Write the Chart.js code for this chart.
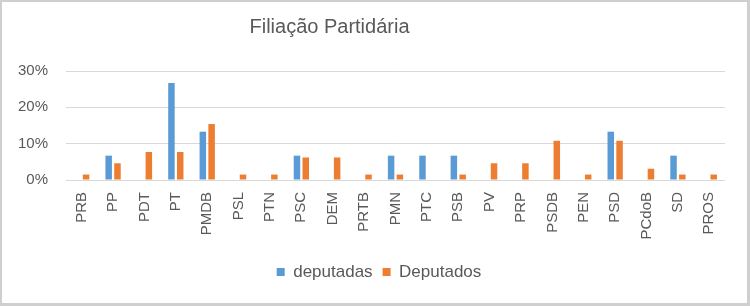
<!DOCTYPE html>
<html>
<head>
<meta charset="utf-8">
<script src="https://cdn.jsdelivr.net/npm/chart.js@4"></script>
<style>
  html, body { margin: 0; padding: 0; background: #fff; }
  .wrap { position: relative; width: 750px; height: 306px; }
  .frame {
    position: absolute; left: 0; top: 0; right: 0; bottom: 0;
    border-style: solid; border-color: #cfcfcf;
    border-width: 2px 3px 3px 2px;
    pointer-events: none;
  }
</style>
</head>
<body>
<div class="wrap">
  <canvas id="chart"></canvas>
  <div class="frame"></div>
</div>
<script>
// dados (percentuais)
const partidos = ["PRB", "PP", "PDT", "PT", "PMDB", "PSL", "PTN", "PSC", "DEM", "PRTB", "PMN",
  "PTC", "PSB", "PV", "PRP", "PSDB", "PEN", "PSD", "PCdoB", "SD", "PROS"];
const deputadas = [0, 6.7, 0, 26.7, 13.3, 0, 0, 6.7, 0, 0, 6.7,
  6.7, 6.7, 0, 0, 0, 0, 13.3, 0, 6.7, 0];
const deputados = [1.5, 4.6, 7.7, 7.7, 15.4, 1.5, 1.5, 6.2, 6.2, 1.5, 1.5,
  0, 1.5, 4.6, 4.6, 10.8, 1.5, 10.8, 3.1, 1.5, 1.5];
const yTicks = [0, 10, 20, 30];

const titulo = "Filiação Partidária";
const textColor = "#595959";
const fontFamily = "'Liberation Sans', Arial, sans-serif";

// título desenhado à mão porque no original ele não fica centralizado
const titlePlugin = {
  id: "tituloDeslocado",
  beforeDraw(chart) {
    // legenda um pouco à direita, como no original
    if (chart.legend) {
      chart.legend.left = 33;
    }
  },
  afterDraw(chart) {
    const ctx = chart.ctx;
    ctx.save();
    ctx.font = "20px " + fontFamily;
    ctx.fillStyle = textColor;
    ctx.textAlign = "center";
    ctx.textBaseline = "alphabetic";
    ctx.fillText(titulo, 329.5, 33);
    ctx.restore();
  },
};

new Chart(document.getElementById("chart"), {
  type: "bar",
  data: {
    labels: partidos,
    datasets: [
      {
        label: "deputadas",
        data: deputadas,
        backgroundColor: "#5B9BD5",
        categoryPercentage: 0.56,
        barPercentage: 0.74,
      },
      {
        label: "Deputados",
        data: deputados,
        backgroundColor: "#ED7D31",
        categoryPercentage: 0.56,
        barPercentage: 0.74,
      },
    ],
  },
  plugins: [titlePlugin],
  options: {
    responsive: true,
    maintainAspectRatio: false,
    animation: false,
    devicePixelRatio: 1,
    layout: {
      padding: { top: 71, right: 25, bottom: 15.5, left: 0 },
    },
    scales: {
      y: {
        min: 0,
        max: 30,
        afterFit: (s) => { s.width = 66; },
        afterBuildTicks: (s) => { s.ticks = yTicks.map((v) => ({ value: v })); },
        border: { display: false },
        grid: { color: "#d9d9d9", drawTicks: false },
        ticks: {
          padding: 18,
          color: textColor,
          font: { size: 15, family: fontFamily },
          callback: (v) => v + "%",
        },
      },
      x: {
        afterFit: (s) => { s.height = 73.5; },
        border: { display: false },
        grid: { display: false, drawTicks: false },
        ticks: {
          padding: 12,
          minRotation: 90,
          maxRotation: 90,
          autoSkip: false,
          color: textColor,
          font: { size: 15, family: fontFamily },
        },
      },
    },
    plugins: {
      title: { display: false },
      tooltip: { enabled: false },
      legend: {
        position: "bottom",
        labels: {
          boxWidth: 8,
          boxHeight: 8,
          padding: 10,
          color: textColor,
          font: { size: 17, family: fontFamily },
        },
      },
    },
  },
});
</script>
</body>
</html>
